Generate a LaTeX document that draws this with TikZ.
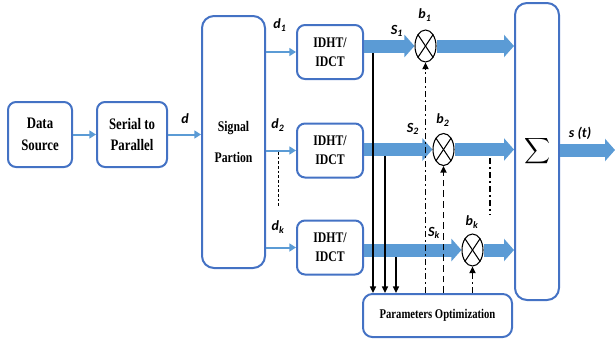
\documentclass[tikz,border=0pt]{standalone}
\usepackage{graphicx}
\usepackage{fontspec}
\setmainfont{Liberation Serif}
\newfontfamily\boxfont[FakeStretch=0.8]{Liberation Serif}
\newfontfamily\labfont{Carlito}
\usetikzlibrary{arrows.meta,shapes.geometric}
\definecolor{boxblue}{RGB}{68,114,196}
\definecolor{bandblue}{RGB}{91,155,213}
\newcommand{\lab}[2]{#1\textsubscript{#2}}
\begin{document}
\begin{tikzpicture}[x=0.75pt,y=-0.75pt,
    blk/.style={draw=boxblue, line width=1.5pt, rounded corners=6pt, align=center,
        inner sep=0pt, font=\boxfont\bfseries\fontsize{12}{16}\selectfont},
    idht/.style={blk, minimum width=49.5pt, minimum height=40.5pt,
        font=\boxfont\bfseries\fontsize{11}{14.5}\selectfont},
    thinarr/.style={draw=bandblue, line width=1.5pt, -{Triangle[length=5pt,width=6pt]}},
    band/.style={draw=bandblue, line width=9.75pt, -{Triangle[length=7.5pt,width=16.5pt]}},
    mult/.style={draw, ellipse, fill=white, minimum width=15.75pt, minimum height=24pt,
        inner sep=0pt, line width=0.8pt},
    fb/.style={line width=1.1pt, -{Triangle[length=5pt,width=4.5pt]}},
    ctl/.style={line width=1.3pt, dash pattern=on 4.5pt off 2.5pt on 1pt off 2.5pt,
        -{Triangle[length=5pt,width=4.5pt]}},
    lbl/.style={font=\labfont\bfseries\itshape\fontsize{10.5}{12}\selectfont, inner sep=0pt}]
    \useasboundingbox (0,0) rectangle (615,339);

    % Blocks
    \node[blk, minimum width=48pt, minimum height=48.75pt] (src) at (40,134.5) {Data\\Source};
    \node[blk, minimum width=52.5pt, minimum height=48.75pt] (s2p) at (132,134.5) {Serial to\\Parallel};
    \node[blk, rounded corners=9pt, minimum width=47.25pt, minimum height=189pt,
        font=\boxfont\bfseries\fontsize{11}{13}\selectfont] (part) at (233.5,142) {Signal\\[10pt]Partion};
    \node[idht] (idht1) at (330,52) {IDHT/\\IDCT};
    \node[idht] (idht2) at (330,150.5) {IDHT/\\IDCT};
    \node[idht] (idht3) at (330,247.5) {IDHT/\\IDCT};
    \node[blk, rounded corners=9pt, minimum width=33pt, minimum height=222.75pt,
        font=\normalsize] (sum) at (537,151.5) {\scalebox{1.35}{$\displaystyle\sum$}};
    \node[blk, rounded corners=7pt, minimum width=111.75pt, minimum height=32.25pt,
        font=\boxfont\bfseries\fontsize{10}{12}\selectfont] (po) at (437.5,315.5) {Parameters Optimization};

    % Multipliers
    \node[mult] (m1) at (425.5,46) {};
    \node[mult] (m2) at (443.5,149.5) {};
    \node[mult] (m3) at (472.5,250) {};
    \foreach \m in {m1,m2,m3} {
        \draw[line width=0.8pt] (\m.north east) -- (\m.south west);
        \draw[line width=0.8pt] (\m.north west) -- (\m.south east);
    }

    % Input chain
    \draw[thinarr] (src.east) -- (s2p.west);
    \draw[thinarr] (s2p.east) -- (s2p.east-|part.west);
    \draw[thinarr] (part.east|-idht1.west) -- (idht1.west);
    \draw[thinarr] (part.east|-idht2.west) -- (idht2.west);
    \draw[thinarr] (part.east|-idht3.west) -- (idht3.west);

    % Signal bands
    \draw[band] (idht1.east|-m1.west) -- (m1.west);
    \draw[band] (idht2.east|-m2.west) -- (m2.west);
    \draw[band] (idht3.east|-m3.west) -- (m3.west);
    \draw[band] (m1.east) -- (sum.west|-m1.east);
    \draw[band] (m2.east) -- (sum.west|-m2.east);
    \draw[band] (m3.east) -- (sum.west|-m3.east);
    \coordinate (out) at (615,150);
    \draw[band] (sum.east|-out) -- (out);

    % Feedback to optimization
    \coordinate (t1) at (373,53);
    \coordinate (t2) at (385,156);
    \coordinate (t3) at (396,257);
    \draw[fb] (t1) -- (t1|-po.north);
    \draw[fb] (t2) -- (t2|-po.north);
    \draw[fb] (t3) -- (t3|-po.north);

    % Control of the multipliers
    \draw[ctl] (m1.south|-po.north) -- (m1.south);
    \draw[line width=1.3pt, dash pattern=on 5pt off 3pt, -{Triangle[length=5pt,width=4.5pt]}]
        (m2.south|-po.north) -- (m2.south);
    \draw[ctl] (m3.south|-po.north) -- (m3.south);
    \coordinate (e1) at (490,158);
    \coordinate (e2) at (490,215);
    \draw[line width=1.3pt, dash pattern=on 4.5pt off 2.5pt on 1pt off 2.5pt] (e1) -- (e2);
    \coordinate (v1) at (278,152);
    \coordinate (v2) at (278,207);
    \draw[line width=0.5pt, dash pattern=on 2pt off 1.5pt] (v1) -- (v2);

    % Labels
    \node[lbl] (ld) at (185,119) {d};
    \node[lbl] (ld1) at (280,25) {\lab{d}{1}};
    \node[lbl] (ld2) at (278,125) {\lab{d}{2}};
    \node[lbl] (ldk) at (278,227) {\lab{d}{k}};
    \node[lbl] (ls1) at (397,31) {\lab{S}{1}};
    \node[lbl] (ls2) at (413,129) {\lab{S}{2}};
    \node[lbl] (lsk) at (434,233) {\lab{S}{k}};
    \node[lbl] (lb1) at (425,15) {\lab{b}{1}};
    \node[lbl] (lb2) at (443,120) {\lab{b}{2}};
    \node[lbl] (lbk) at (472,222) {\lab{b}{k}};
    \node[lbl] (lst) at (580,133) {s (t)};
\end{tikzpicture}
\end{document}
